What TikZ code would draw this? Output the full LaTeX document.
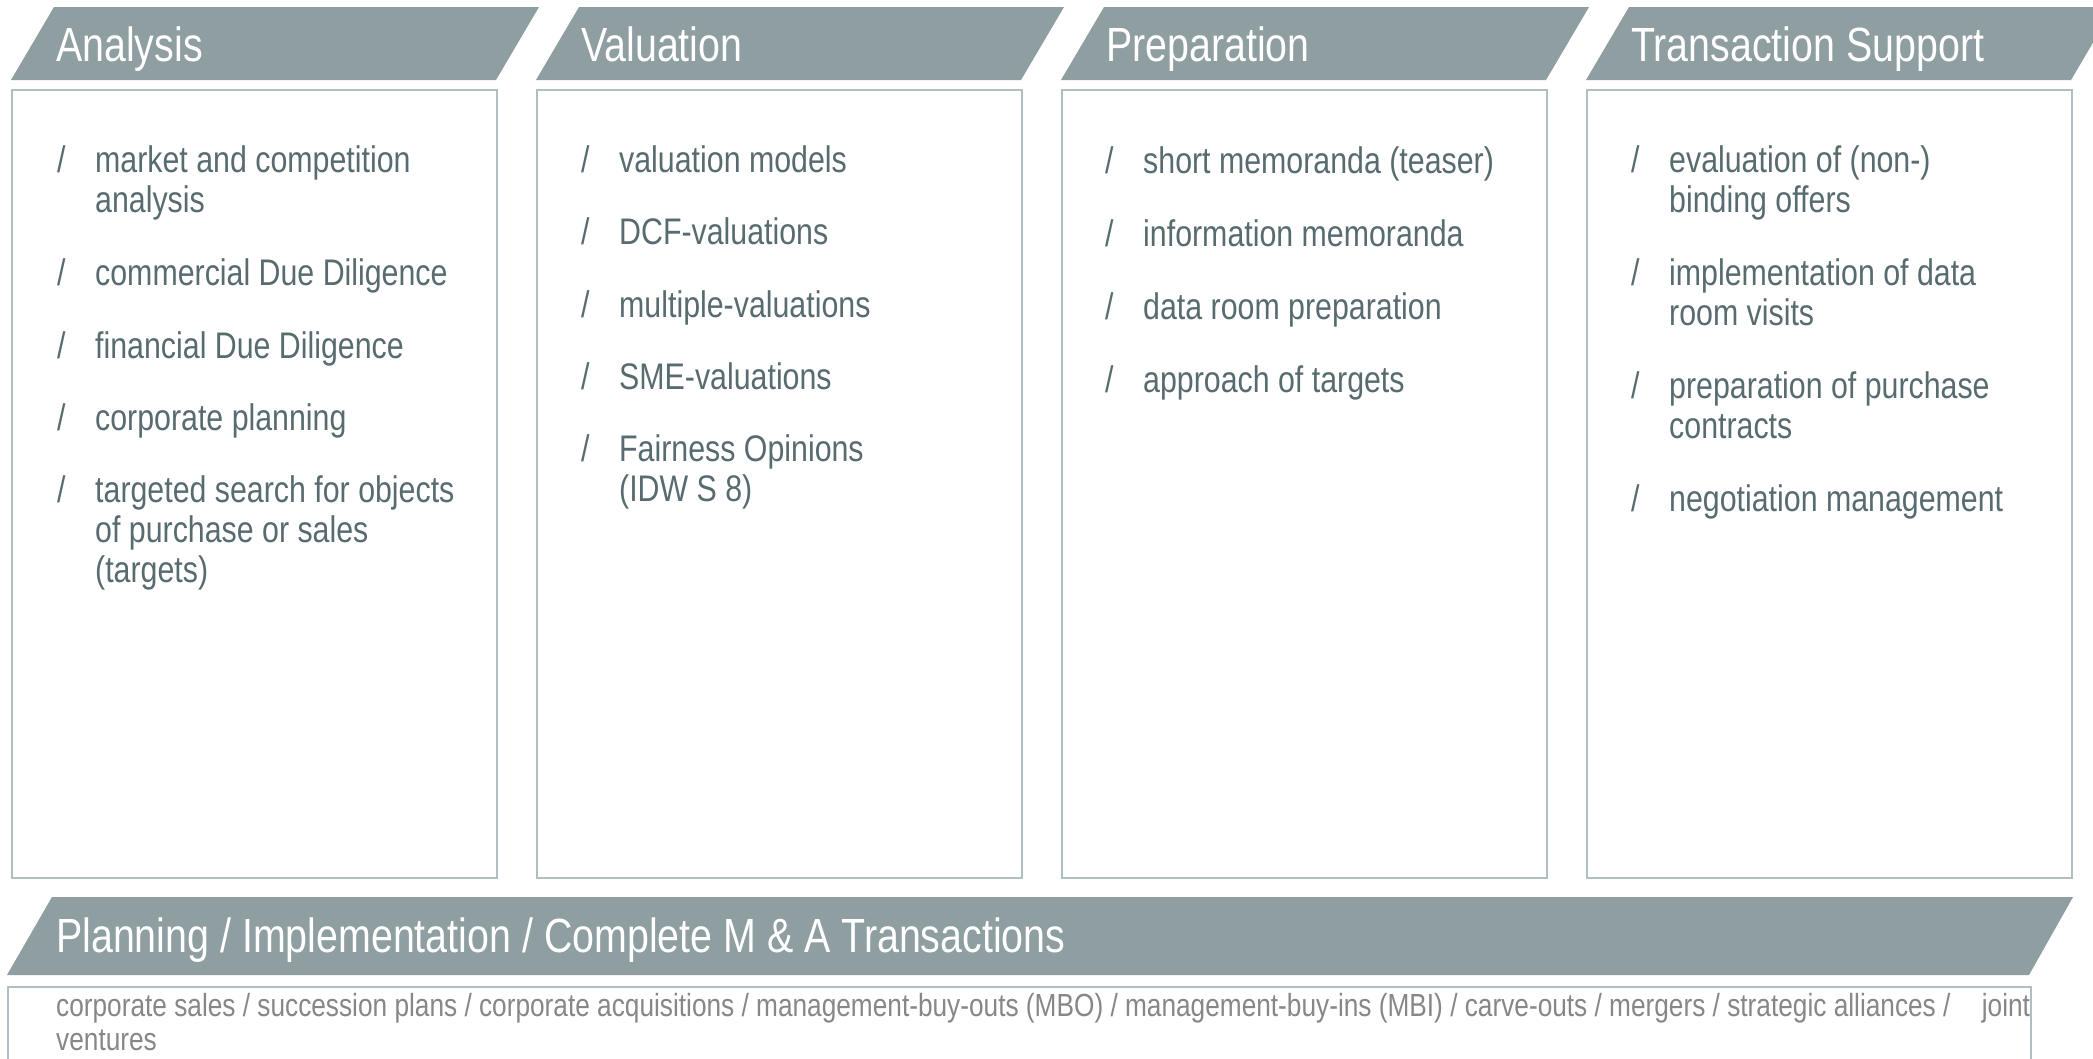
\documentclass[tikz,border=0pt]{standalone}
\usepackage{fontspec}
\setmainfont{Liberation Sans}
\newfontfamily\nfont[FakeStretch=0.82]{Liberation Sans}
\definecolor{hdr}{RGB}{142,158,161}
\definecolor{frm}{RGB}{178,191,194}
\definecolor{bodytxt}{RGB}{88,108,112}
\definecolor{bottxt}{RGB}{135,135,135}
\newcommand\twol[2]{\vtop{\baselineskip=40pt\hbox{#1}\hbox{#2}}}
\newcommand\threel[3]{\vtop{\baselineskip=40pt\hbox{#1}\hbox{#2}\hbox{#3}}}
\begin{document}
\begin{tikzpicture}[x=1pt,y=-1pt,
  hdrshape/.style={fill=hdr,draw=none},
  frame/.style={draw=frm,line width=1.5pt,fill=white,minimum width=485pt,minimum height=788pt,anchor=north west,inner sep=0pt},
  htext/.style={anchor=base west,inner sep=0pt,text=white,font=\nfont\fontsize{48}{54}\selectfont},
  slash/.style={anchor=base west,inner sep=0pt,text=bodytxt,font=\nfont\fontsize{37}{40}\selectfont},
  itm/.style={anchor=base west,inner sep=0pt,text=bodytxt,font=\nfont\fontsize{37}{40}\selectfont},
  btxt/.style={anchor=base west,inner sep=0pt,text=bottxt,font=\nfont\fontsize{32}{34}\selectfont}]
\useasboundingbox (0,0) rectangle (2093,1058);
\clip (0,0) rectangle (2093,1058);
\fill[white] (0,0) rectangle (2093,1058);

% top headers
\foreach \xl in {11,536,1061,1586}{
  \path[hdrshape] (\xl,80) -- (\xl+43,7) -- (\xl+528,7) -- (\xl+485,80) -- cycle;
}
\node[htext] (hA) at (56,61) {Analysis};
\node[htext] (hV) at (581,61) {Valuation};
\node[htext] (hP) at (1106,61) {Preparation};
\node[htext] (hT) at (1631,61) {Transaction Support};

% boxes
\node[frame] (bA) at (11,89) {};
\node[frame] (bV) at (536,89) {};
\node[frame] (bP) at (1061,89) {};
\node[frame] (bT) at (1586,89) {};

% Analysis items
\node[slash] (sA1) at (57,172) {/};
\node[itm] (tA1) at (95,172) {\twol{market and competition}{analysis}};
\node[slash] (sA2) at (57,285) {/};
\node[itm] (tA2) at (95,285) {commercial Due Diligence};
\node[slash] (sA3) at (57,358) {/};
\node[itm] (tA3) at (95,358) {financial Due Diligence};
\node[slash] (sA4) at (57,430) {/};
\node[itm] (tA4) at (95,430) {corporate planning};
\node[slash] (sA5) at (57,502) {/};
\node[itm] (tA5) at (95,502) {\threel{targeted search for objects}{of purchase or sales}{(targets)}};

% Valuation items
\node[slash] (sV1) at (581,172) {/};
\node[itm] (tV1) at (619,172) {valuation models};
\node[slash] (sV2) at (581,244) {/};
\node[itm] (tV2) at (619,244) {DCF-valuations};
\node[slash] (sV3) at (581,317) {/};
\node[itm] (tV3) at (619,317) {multiple-valuations};
\node[slash] (sV4) at (581,389) {/};
\node[itm] (tV4) at (619,389) {SME-valuations};
\node[slash] (sV5) at (581,461) {/};
\node[itm] (tV5) at (619,461) {\twol{Fairness Opinions}{(IDW S 8)}};

% Preparation items
\node[slash] (sP1) at (1105,173) {/};
\node[itm] (tP1) at (1143,173) {short memoranda (teaser)};
\node[slash] (sP2) at (1105,246) {/};
\node[itm] (tP2) at (1143,246) {information memoranda};
\node[slash] (sP3) at (1105,319) {/};
\node[itm] (tP3) at (1143,319) {data room preparation};
\node[slash] (sP4) at (1105,392) {/};
\node[itm] (tP4) at (1143,392) {approach of targets};

% Transaction items
\node[slash] (sT1) at (1631,172) {/};
\node[itm] (tT1) at (1669,172) {\twol{evaluation of (non-)}{binding offers}};
\node[slash] (sT2) at (1631,285) {/};
\node[itm] (tT2) at (1669,285) {\twol{implementation of data}{room visits}};
\node[slash] (sT3) at (1631,398) {/};
\node[itm] (tT3) at (1669,398) {\twol{preparation of purchase}{contracts}};
\node[slash] (sT4) at (1631,511) {/};
\node[itm] (tT4) at (1669,511) {negotiation management};

% bottom header
\path[hdrshape] (7,975) -- (52,897) -- (2073,897) -- (2029,975) -- cycle;
\node[htext] (hB) at (56,952) {Planning / Implementation / Complete M \& A Transactions};

% bottom box
\node[draw=frm,line width=1.5pt,fill=white,anchor=north west,inner sep=0pt,minimum width=2023pt,minimum height=120pt] (bB) at (7,986) {};
\node[btxt] (tB) at (56,1016) {\vtop{\baselineskip=34pt\hbox to 1974pt{corporate sales / succession plans / corporate acquisitions / management-buy-outs (MBO) / management-buy-ins (MBI) / carve-outs / mergers / strategic alliances /\hfill joint}\hbox{ventures}}};
\end{tikzpicture}
\end{document}
